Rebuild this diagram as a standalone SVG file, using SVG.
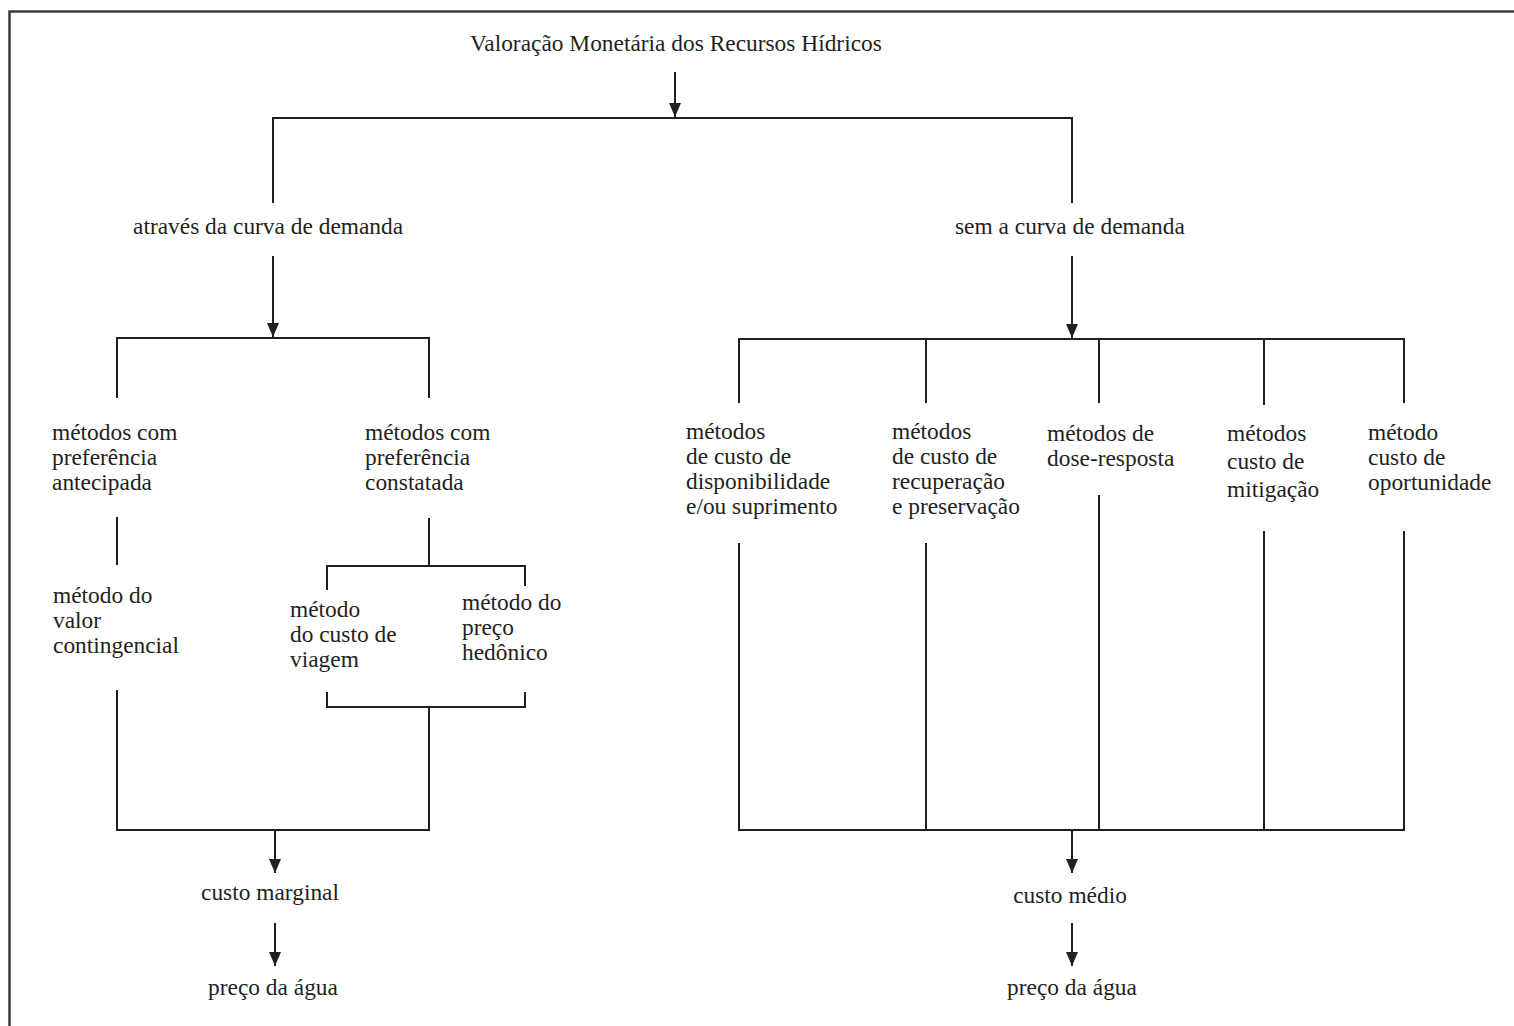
<svg xmlns="http://www.w3.org/2000/svg" width="1514" height="1026" viewBox="0 0 1514 1026">
  <style>
    .t { font-family: "Liberation Serif", "Times New Roman", serif; font-size: 23.4px; fill: #231f20; }
    .c { text-anchor: middle; }
    .ln { stroke: #231f20; stroke-width: 2; fill: none; }
    .frame { stroke: #3d3a3b; stroke-width: 2.5; fill: none; }
  </style>
  <defs>
    <marker id="ah" viewBox="0 0 14 12" refX="14" refY="6" markerWidth="14" markerHeight="12" markerUnits="userSpaceOnUse" orient="auto">
      <path d="M0,0 L14,6 L0,12 Z" fill="#231f20"/>
    </marker>
  </defs>

  <rect width="1514" height="1026" fill="#ffffff"/>
  <path class="frame" d="M9.5,1026 V11.5 H1514"/>

  <!-- connectors -->
  <g id="connectors">
    <!-- root to split -->
    <line class="ln" x1="675" y1="72" x2="675" y2="117" marker-end="url(#ah)"/>
    <path class="ln" d="M273,203 V118 H1072 V203"/>

    <!-- demand-curve branch -->
    <line class="ln" x1="273" y1="256" x2="273" y2="337" marker-end="url(#ah)"/>
    <path class="ln" d="M117,398 V338 H429 V398"/>
    <line class="ln" x1="117" y1="517" x2="117" y2="565"/>
    <line class="ln" x1="429" y1="518" x2="429" y2="566"/>
    <path class="ln" d="M327,590 V566 H525 V586"/>
    <path class="ln" d="M327,692 V707 H525 V692"/>
    <path class="ln" d="M117,690 V830 H429 V707"/>
    <line class="ln" x1="275" y1="830" x2="275" y2="873" marker-end="url(#ah)"/>
    <line class="ln" x1="275" y1="923" x2="275" y2="966" marker-end="url(#ah)"/>

    <!-- no-demand-curve branch -->
    <line class="ln" x1="1072" y1="256" x2="1072" y2="338" marker-end="url(#ah)"/>
    <path class="ln" d="M739,403 V339 H1404 V403"/>
    <line class="ln" x1="926" y1="339" x2="926" y2="403"/>
    <line class="ln" x1="1099" y1="339" x2="1099" y2="403"/>
    <line class="ln" x1="1264" y1="339" x2="1264" y2="405"/>
    <path class="ln" d="M739,543 V830 H1404 V531"/>
    <line class="ln" x1="926" y1="543" x2="926" y2="830"/>
    <line class="ln" x1="1099" y1="495" x2="1099" y2="830"/>
    <line class="ln" x1="1264" y1="531" x2="1264" y2="830"/>
    <line class="ln" x1="1072" y1="830" x2="1072" y2="873" marker-end="url(#ah)"/>
    <line class="ln" x1="1072" y1="923" x2="1072" y2="966" marker-end="url(#ah)"/>
  </g>

  <g id="root"><text class="t" x="470" y="51">Valoração Monetária dos Recursos Hídricos</text></g>

  <g id="com-curva"><text class="t" x="133" y="234">através da curva de demanda</text></g>
  <g id="sem-curva"><text class="t" x="955" y="234">sem a curva de demanda</text></g>

  <g id="pref-antecipada">
    <text class="t" x="52" y="440">métodos com</text>
    <text class="t" x="52" y="465">preferência</text>
    <text class="t" x="52" y="490">antecipada</text>
  </g>
  <g id="pref-constatada">
    <text class="t" x="365" y="440">métodos com</text>
    <text class="t" x="365" y="465">preferência</text>
    <text class="t" x="365" y="490">constatada</text>
  </g>
  <g id="valor-contingencial">
    <text class="t" x="53" y="603">método do</text>
    <text class="t" x="53" y="628"> valor</text>
    <text class="t" x="53" y="653">contingencial</text>
  </g>
  <g id="custo-viagem">
    <text class="t" x="290" y="617">método</text>
    <text class="t" x="290" y="642">do custo de</text>
    <text class="t" x="290" y="667">viagem</text>
  </g>
  <g id="preco-hedonico">
    <text class="t" x="462" y="610">método do</text>
    <text class="t" x="462" y="635">preço</text>
    <text class="t" x="462" y="660">hedônico</text>
  </g>

  <g id="disponibilidade">
    <text class="t" x="686" y="439">métodos</text>
    <text class="t" x="686" y="464">de custo de</text>
    <text class="t" x="686" y="489">disponibilidade</text>
    <text class="t" x="686" y="514">e/ou suprimento</text>
  </g>
  <g id="recuperacao">
    <text class="t" x="892" y="439">métodos</text>
    <text class="t" x="892" y="464">de custo de</text>
    <text class="t" x="892" y="489">recuperação</text>
    <text class="t" x="892" y="514">e preservação</text>
  </g>
  <g id="dose-resposta">
    <text class="t" x="1047" y="441">métodos de</text>
    <text class="t" x="1047" y="466">dose-resposta</text>
  </g>
  <g id="mitigacao">
    <text class="t" x="1227" y="441">métodos</text>
    <text class="t" x="1227" y="469">custo de</text>
    <text class="t" x="1227" y="497">mitigação</text>
  </g>
  <g id="oportunidade">
    <text class="t" x="1368" y="440">método</text>
    <text class="t" x="1368" y="465">custo de</text>
    <text class="t" x="1368" y="490">oportunidade</text>
  </g>

  <g id="custo-marginal"><text class="t c" x="270" y="900">custo marginal</text></g>
  <g id="preco-esq"><text class="t c" x="273" y="995">preço da água</text></g>
  <g id="custo-medio"><text class="t c" x="1070" y="903">custo médio</text></g>
  <g id="preco-dir"><text class="t c" x="1072" y="995">preço da água</text></g>
</svg>
